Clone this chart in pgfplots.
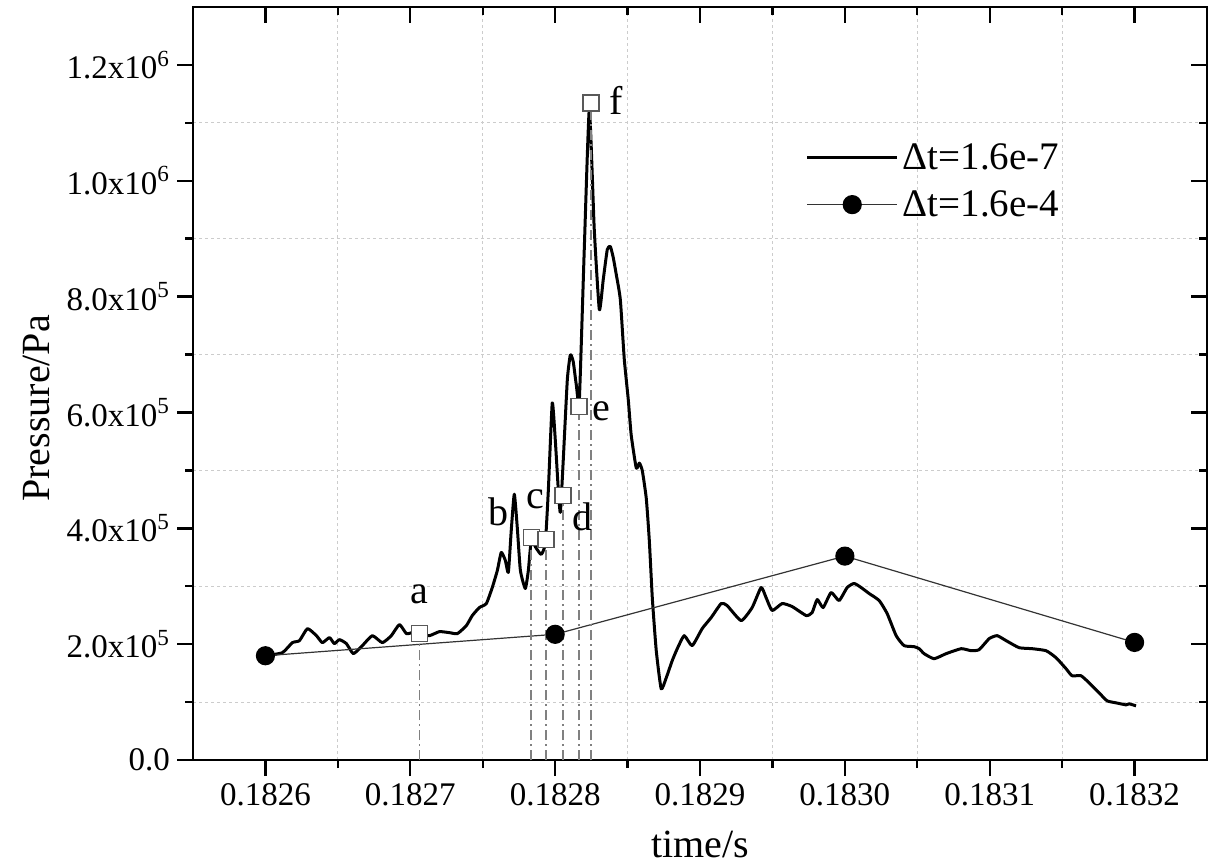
\documentclass[border=0pt]{standalone}
\usepackage{fontspec}
\setmainfont{Liberation Serif}
\usepackage{pgfplots}
\pgfplotsset{compat=1.18}
\begin{document}
\begin{tikzpicture}
\begin{axis}[
    name=main,
    scale only axis,
    width=507pt, height=376.5pt,
    xmin=0.18255, xmax=0.18325,
    ymin=0, ymax=1.3e6,
    scaled ticks=false,
    xtick={0.1826,0.1827,0.1828,0.1829,0.1830,0.1831,0.1832},
    xticklabels={0.1826,0.1827,0.1828,0.1829,0.1830,0.1831,0.1832},
    ytick={0,2e5,4e5,6e5,8e5,1e6,1.2e6},
    yticklabels={0.0,2.0x10\textsuperscript{5},4.0x10\textsuperscript{5},6.0x10\textsuperscript{5},8.0x10\textsuperscript{5},1.0x10\textsuperscript{6},1.2x10\textsuperscript{6}},
    minor x tick num=1, minor y tick num=1,
    xminorgrids, yminorgrids,
    minor grid style={gray!40, dash pattern=on 1.5pt off 1.5pt, line width=0.5pt},
    tick align=outside,
    xtick pos=left, ytick pos=left,
    major tick length=8pt, minor tick length=4pt,
    tick style={black, line width=1.2pt},
    axis line style={line width=1.2pt},
    tick label style={font=\fontsize{16.5}{19.8}\selectfont},
    label style={font=\fontsize{20}{24}\selectfont},
    xlabel={time/s},
    ylabel={Pressure/Pa},
    xlabel style={at={(rel axis cs:0.5,0)}, anchor=base, yshift=-48.5pt},
    ylabel style={at={([xshift=-71.5pt]rel axis cs:0,0.467)}, anchor=base},
    legend style={draw=none, fill=none, at={(rel axis cs:0.598,0.83)}, anchor=north west,
        font=\fontsize{19.5}{23}\selectfont, legend cell align=left, row sep=5pt},
    legend image code/.code={\draw[mark repeat=2,mark phase=2,#1] plot coordinates {(0cm,0cm) (0.79cm,0cm) (1.58cm,0cm)};},
    clip=false,
]
% fine time step curve
\addplot[black, line width=1.5pt, line join=round, smooth, tension=0.3, no markers] table {
x y
0.182600 180000
0.1826117 185300
0.1826186 202600
0.1826235 206100
0.1826290 226800
0.1826352 214700
0.1826393 202600
0.1826442 211300
0.1826476 200900
0.1826511 207800
0.1826559 200900
0.1826607 183600
0.1826669 197400
0.1826738 214700
0.1826807 202600
0.1826869 214700
0.1826925 233800
0.1826973 218200
0.1827014 219900
0.1827063 218200
0.1827132 214700
0.1827201 221600
0.1827270 219900
0.1827325 218200
0.1827387 232000
0.1827428 249400
0.1827477 263200
0.1827525 270100
0.1827566 297800
0.1827601 327300
0.1827628 358400
0.1827656 344600
0.1827677 323800
0.1827697 396500
0.1827718 458900
0.1827739 400000
0.1827760 327300
0.1827794 296100
0.1827815 327300
0.1827835 377500
0.1827870 365400
0.1827904 355000
0.1827932 374000
0.1827953 465800
0.1827980 616400
0.1828001 552400
0.1828022 465800
0.1828036 427700
0.1828056 517800
0.1828084 656300
0.1828105 699600
0.1828125 687400
0.1828146 647600
0.1828167 621600
0.1828201 881400
0.1828236 1123800
0.1828270 916000
0.1828305 777500
0.1828332 829400
0.1828360 881400
0.1828381 886600
0.1828401 867500
0.1828422 838100
0.1828450 794800
0.1828477 692600
0.1828505 621600
0.1828525 561000
0.1828560 503900
0.1828581 512600
0.1828601 500400
0.1828629 451900
0.1828650 379200
0.1828671 278800
0.1828698 188700
0.1828732 122900
0.1828767 142000
0.1828808 171400
0.1828843 192200
0.1828891 214700
0.1828946 197400
0.1829015 226800
0.1829077 245900
0.1829146 270100
0.1829187 266700
0.1829284 240700
0.1829360 263200
0.1829422 297800
0.1829456 280500
0.1829498 258000
0.1829567 270100
0.1829636 264900
0.1829733 249400
0.1829774 254500
0.1829809 277100
0.1829850 263200
0.1829905 289200
0.1829960 275300
0.1830016 297800
0.1830064 304800
0.1830112 297800
0.1830168 287400
0.1830237 275300
0.1830292 252800
0.1830354 214700
0.1830409 197400
0.1830478 195700
0.1830513 192200
0.1830547 183600
0.1830616 174900
0.1830699 183600
0.1830803 192200
0.1830872 188700
0.1830927 190500
0.1830996 209500
0.1831051 214700
0.1831113 206100
0.1831203 193900
0.1831292 192200
0.1831389 188700
0.1831458 176600
0.1831527 157600
0.1831568 145500
0.1831630 145500
0.1831686 133300
0.1831755 116000
0.1831810 102200
0.1831872 98700
0.1831941 95200
0.1831962 97000
0.1832010 93500
};
\addlegendentry{Δt=1.6e-7}
% coarse time step
\addplot[black!80, line width=0.6pt, mark=*, mark size=4.5pt, mark options={solid, fill=black, draw=black}] table {
x y
0.1826 180000
0.1828 217000
0.1830 352000
0.1832 203000
};
\addlegendentry{Δt=1.6e-4}
% marker drop lines
\addplot[ycomb, gray, line width=0.8pt, dash pattern=on 5pt off 2pt on 1pt off 2pt, no markers, forget plot] table {
x y
0.1827063 218000
0.1827835 384000
0.1827937 381000
0.1828054 457000
0.1828165 610000
0.1828247 1134000
};
\addplot[only marks, mark=square*, mark size=4pt, mark options={fill=white, draw=black!65, line width=0.7pt}, forget plot] table {
x y
0.1827063 218000
0.1827835 384000
0.1827937 381000
0.1828054 457000
0.1828165 610000
0.1828247 1134000
};
\begin{scope}[font=\fontsize{20}{24}\selectfont]
\node at (axis cs:0.1827063,285700) {a};
\node at (axis cs:0.1827608,427700) {b};
\node at (axis cs:0.1827863,450200) {c};
\node at (axis cs:0.1828187,419000) {d};
\node at (axis cs:0.1828318,602600) {e};
\node at (axis cs:0.1828422,1139400) {f};
\end{scope}
\end{axis}
\begin{axis}[
    scale only axis,
    width=507pt, height=376.5pt,
    xmin=0.18255, xmax=0.18325,
    ymin=0, ymax=1.3e6,
    scaled ticks=false,
    xtick={0.1826,0.1827,0.1828,0.1829,0.1830,0.1831,0.1832},
    ytick={0,2e5,4e5,6e5,8e5,1e6,1.2e6},
    minor x tick num=1, minor y tick num=1,
    xticklabels={}, yticklabels={},
    tick align=inside,
    xtick pos=right, ytick pos=right,
    major tick length=8pt, minor tick length=4pt,
    tick style={black, line width=1.2pt},
    axis line style={draw=none},
]
\end{axis}
\pgfresetboundingbox
\path[use as bounding box] ([xshift=-96.5pt,yshift=-52.5pt]main.south west) rectangle ([xshift=0.5pt,yshift=3.5pt]main.north east);
\end{tikzpicture}
\end{document}
